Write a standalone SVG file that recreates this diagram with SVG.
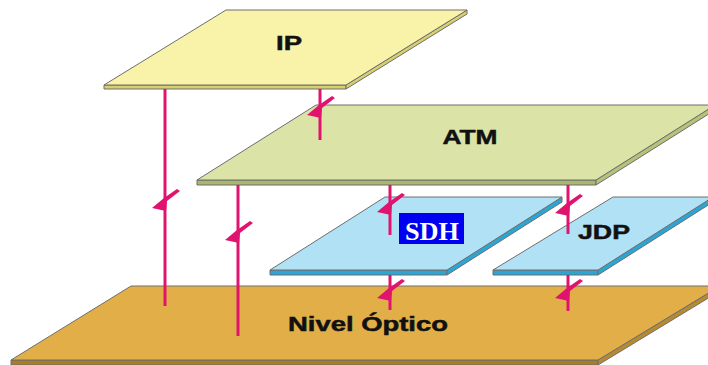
<svg xmlns="http://www.w3.org/2000/svg" xmlns:xlink="http://www.w3.org/1999/xlink" width="708" height="365" viewBox="0 0 708 365">
  <style>
    .edge { stroke: #6e6e6e; stroke-width: 1; stroke-linejoin: round; }
    .lbl { font-family: "Liberation Sans", Arial, sans-serif; font-weight: bold; font-size: 21px; fill: #111; stroke: #111; stroke-width: 0.5; text-anchor: middle; }
    .sdh { font-family: "Liberation Serif", "Times New Roman", serif; font-weight: bold; font-size: 26px; fill: #ffffff; text-anchor: middle; }
    .wire { stroke: #e0146e; stroke-width: 3; fill: none; }
    .bolt { fill: #e0146e; }
  </style>
  <defs>
    <path id="bolt" d="M12,-12 L15,-10 L2,0 L1,10 L-13,7 L-1,-3 Z"/>
  </defs>
  <rect width="708" height="365" fill="#ffffff"/>

  <g id="nivel-optico">
    <polygon points="11,360 598,360 598,365 11,365" fill="#a97c25" class="edge"/>
    <polygon points="598,360 720,286 720,291 598,365" fill="#b58a30" class="edge"/>
    <polygon points="131,286 720,286 598,360 11,360" fill="#e2ae48" class="edge"/>
    <text x="368" y="331" class="lbl" textLength="160" lengthAdjust="spacingAndGlyphs">Nivel Óptico</text>
  </g>

  <g id="sdh">
    <polygon points="270,270 447,270 447,275 270,275" fill="#2aa6d6" class="edge"/>
    <polygon points="447,270 562,197 562,202 447,275" fill="#2aa6d6" class="edge"/>
    <polygon points="385,197 562,197 447,270 270,270" fill="#b1e1f5" class="edge"/>
    <rect x="399" y="213" width="65" height="31" fill="#0000f0"/>
    <text x="432" y="240" class="sdh" textLength="54" lengthAdjust="spacingAndGlyphs">SDH</text>
  </g>

  <g id="jdp">
    <polygon points="493,270 598,270 598,275 493,275" fill="#2aa6d6" class="edge"/>
    <polygon points="598,270 713,197 713,202 598,275" fill="#2aa6d6" class="edge"/>
    <polygon points="613,197 713,197 598,270 493,270" fill="#b1e1f5" class="edge"/>
    <text x="604" y="239" class="lbl" textLength="52" lengthAdjust="spacingAndGlyphs">JDP</text>
  </g>

  <g id="atm">
    <polygon points="197,180 596,180 596,185 197,185" fill="#a9b86b" class="edge"/>
    <polygon points="596,180 715,105 715,110 596,185" fill="#b4c27a" class="edge"/>
    <polygon points="316,105 715,105 596,180 197,180" fill="#dbe3a6" class="edge"/>
    <text x="470" y="144" class="lbl" textLength="55" lengthAdjust="spacingAndGlyphs">ATM</text>
  </g>

  <g id="ip">
    <polygon points="104,85 346,85 346,89 104,89" fill="#d8cf6e" class="edge"/>
    <polygon points="346,85 467,10 467,14 346,89" fill="#d8cf6e" class="edge"/>
    <polygon points="226,10 467,10 346,85 104,85" fill="#f8f3a9" class="edge"/>
    <text x="289" y="50" class="lbl" textLength="26" lengthAdjust="spacingAndGlyphs">IP</text>
  </g>

  <g id="connectors">
    <line class="wire" x1="165" y1="89" x2="165" y2="306"/>
    <use xlink:href="#bolt" class="bolt" transform="translate(165,201)"/>
    <line class="wire" x1="238" y1="185" x2="238" y2="336"/>
    <use xlink:href="#bolt" class="bolt" transform="translate(238,233)"/>
    <line class="wire" x1="320" y1="89" x2="320" y2="140"/>
    <use xlink:href="#bolt" class="bolt" transform="translate(320,108)"/>
    <line class="wire" x1="390" y1="185" x2="390" y2="235"/>
    <use xlink:href="#bolt" class="bolt" transform="translate(390,205)"/>
    <line class="wire" x1="568" y1="185" x2="568" y2="234"/>
    <use xlink:href="#bolt" class="bolt" transform="translate(568,206)"/>
    <line class="wire" x1="390" y1="275" x2="390" y2="310"/>
    <use xlink:href="#bolt" class="bolt" transform="translate(390,291)"/>
    <line class="wire" x1="568" y1="275" x2="568" y2="311"/>
    <use xlink:href="#bolt" class="bolt" transform="translate(568,291)"/>
  </g>
</svg>
